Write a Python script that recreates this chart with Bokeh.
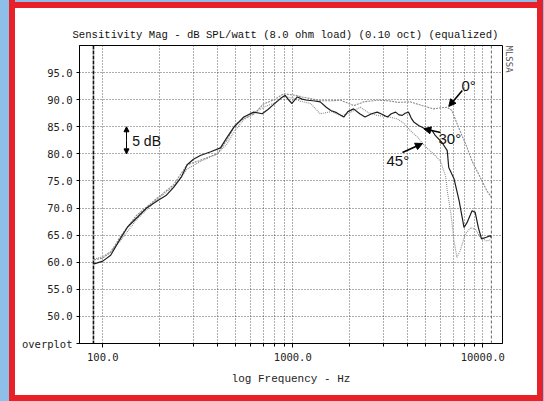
from bokeh.plotting import figure
from bokeh.models import (FixedTicker, PrintfTickFormatter, Label, Arrow, NormalHead,
                          Span, Title)
from bokeh.embed import file_html
from bokeh.resources import INLINE

# ---------------- data ----------------
x_major = [100, 1000, 10000]
x_minor = [200, 300, 400, 500, 600, 700, 800, 900,
           2000, 3000, 4000, 5000, 6000, 7000, 8000, 9000]
y_ticks = [45, 50, 55, 60, 65, 70, 75, 80, 85, 90, 95]
marker_freqs = [89.3, 11100]

# 30 deg (solid)
f_30 = [90, 100, 110, 124, 135, 152, 170, 193, 215, 236, 260, 278, 300, 326, 370, 416,
        450, 489, 552, 623, 690, 740, 780, 861, 912, 960, 990, 1056, 1120, 1190, 1280,
        1395, 1500, 1585, 1700, 1855, 1950, 2090, 2250, 2400, 2600, 2780, 2950, 3150,
        3300, 3480, 3620, 3770, 3900, 4070, 4200, 4330, 4620, 5000, 5420, 5620, 6100,
        6500, 6620, 7060, 7500, 7970, 8260, 8780, 9120, 9480, 9850, 10450, 10960, 11100]
db_30 = [59.7, 60.2, 61.3, 64.4, 66.5, 68.3, 70.0, 71.3, 72.3, 73.8, 75.8, 78.0, 79.0, 79.7,
         80.4, 81.1, 83.0, 84.9, 86.8, 87.7, 87.4, 88.2, 88.9, 90.2, 90.8, 89.8, 89.3, 90.5,
         90.1, 89.9, 89.8, 89.6, 88.6, 88.0, 87.6, 86.8, 87.8, 88.3, 87.4, 86.8, 87.4, 87.7,
         87.3, 86.8, 87.4, 87.7, 87.2, 87.1, 87.5, 87.7, 86.6, 85.9, 85.2, 84.6, 84.3, 83.4,
         82.1, 80.6, 77.5, 75.4, 71.4, 66.4, 67.3, 69.5, 69.2, 66.4, 64.3, 64.6, 64.9, 64.5]

# 0 deg (light dotted)
f_0 = [90, 100, 110, 124, 150, 193, 236, 278, 326, 400, 450, 500, 552, 623, 700, 800, 894,
       1034, 1120, 1240, 1400, 1600, 1785, 2000, 2100, 2360, 2780, 3200, 3600, 4150, 4700,
       5500, 6000, 6500, 6880, 7450, 8260, 8800, 9690, 10500, 11100]
db_0 = [60.4, 60.8, 61.8, 64.8, 68.6, 71.8, 74.3, 78.0, 78.8, 80.0, 82.5, 85.5, 86.5, 87.3,
        89.2, 90.0, 91.1, 90.8, 90.5, 90.2, 89.8, 89.8, 89.9, 89.2, 88.9, 89.6, 89.9, 89.8,
        89.5, 89.6, 89.0, 88.3, 88.5, 88.6, 88.0, 84.9, 81.2, 78.6, 75.7, 73.2, 72.0]

# 45 deg (dotted)
f_45 = [90, 100, 110, 124, 150, 193, 236, 278, 326, 400, 450, 500, 552, 623, 700, 800, 894,
        1000, 1100, 1240, 1395, 1600, 1800, 2000, 2270, 2500, 2780, 3100, 3530, 3850, 4150,
        4530, 5000, 5500, 6000, 6390, 6500, 6800, 7060, 7310, 7600, 8100, 8650, 9200, 9700,
        10500, 11100]
db_45 = [60.6, 61.0, 62.0, 64.0, 67.8, 71.6, 74.0, 77.2, 78.6, 80.0, 81.8, 84.5, 86.3, 87.5,
         88.6, 89.4, 90.6, 90.3, 89.7, 89.3, 87.4, 87.8, 87.0, 87.6, 88.6, 87.6, 87.1, 86.9,
         86.5, 85.6, 84.3, 83.1, 81.3, 80.0, 78.6, 75.7, 73.2, 68.9, 63.9, 60.9, 62.1, 65.2,
         66.4, 66.0, 64.6, 63.9, 64.2]

MONO = "DejaVu Sans Mono"
TMONO = "Liberation Mono"
SANS = "Liberation Sans"
RED = "#e82128"
BLUE = "#8dbfe8"

# ---------------- figure ----------------
p = figure(width=544, height=401, x_axis_type="log", x_range=(75.4, 12700), y_range=(45, 100),
           output_backend="svg", toolbar_location=None,
           min_border_left=79, min_border_right=42, min_border_top=45, min_border_bottom=58)
p.background_fill_color = "white"
p.border_fill_color = None
p.outline_line_color = "black"
p.outline_line_width = 1
p.styles = {
    "background-color": "white",
    "background-image": (
        f"linear-gradient(to right, {BLUE} 0px, {BLUE} 9px, {RED} 9px, {RED} 15px, "
        f"transparent 15px, transparent 537px, {RED} 537px, {RED} 543px, {BLUE} 543px), "
        f"linear-gradient(to bottom, {BLUE} 0px, {BLUE} 2px, {RED} 2px, {RED} 8px, "
        f"transparent 8px, transparent 395px, {RED} 395px)"
    ),
}

# title
p.title.text = "Sensitivity Mag - dB SPL/watt (8.0 ohm load) (0.10 oct) (equalized)"
p.title.text_font = TMONO
p.title.text_font_size = "10.6px"
p.title.text_font_style = "normal"
p.title.text_color = "#111111"
p.title.align = "left"
p.title.offset = -7
p.title.standoff = 9

p.add_layout(Title(text="MLSSA", align="left", text_font=MONO, text_font_size="9px",
                   text_font_style="normal", text_color="#555555", standoff=3), "right")

# x axis
p.xaxis.ticker = FixedTicker(ticks=x_major, minor_ticks=x_minor)
p.xaxis.formatter = PrintfTickFormatter(format="%.1f")
p.xaxis.major_tick_out = 4
p.xaxis.major_tick_in = 0
p.xaxis.minor_tick_out = 3
p.xaxis.minor_tick_in = 0
p.xaxis.major_label_text_font = MONO
p.xaxis.major_label_text_font_size = "10.5px"
p.xaxis.major_label_text_color = "#222222"
p.xaxis.major_label_standoff = 5
p.xaxis.axis_label = "log Frequency - Hz"
p.xaxis.axis_label_text_font = TMONO
p.xaxis.axis_label_text_font_style = "normal"
p.xaxis.axis_label_text_font_size = "11px"
p.xaxis.axis_label_text_color = "#222222"
p.xaxis.axis_label_standoff = 9

# y axis
p.yaxis.ticker = FixedTicker(ticks=y_ticks)
p.yaxis.formatter = PrintfTickFormatter(format="%.1f")
p.yaxis.major_label_overrides = {45: "overplot"}
p.yaxis.major_tick_out = 3
p.yaxis.major_tick_in = 0
p.yaxis.minor_tick_line_color = None
p.yaxis.major_label_text_font = MONO
p.yaxis.major_label_text_font_size = "10.5px"
p.yaxis.major_label_text_color = "#222222"
p.yaxis.major_label_standoff = 4

# grids
for g in (p.xgrid, p.ygrid):
    g.grid_line_color = "#333333"
    g.grid_line_dash = "1 2"
    g.grid_line_alpha = 0.8
p.xgrid.minor_grid_line_color = "#333333"
p.xgrid.minor_grid_line_dash = "1 2"
p.xgrid.minor_grid_line_alpha = 0.8

# data span markers
p.add_layout(Span(location=marker_freqs[0], dimension="height", line_color="#111111",
                  line_width=1.6, line_dash="4 1"))
p.add_layout(Span(location=marker_freqs[1], dimension="height", line_color="#666666",
                  line_width=1, line_dash="3 2"))

# curves
p.line(f_0, db_0, line_color="#8a8a8a", line_width=1.1, line_dash="2 1")
p.line(f_45, db_45, line_color="#8f8f8f", line_width=1.1, line_dash="1 1")
p.line(f_30, db_30, line_color="#1e1e1e", line_width=1.2)

# annotations
ann = dict(text_font=SANS, text_font_size="15px", text_align="left",
           text_baseline="middle", text_color="#111111")
p.add_layout(Label(x=7726, y=92.65, text="0°", **ann))
p.add_layout(Label(x=5847, y=82.83, text="30°", **ann))
p.add_layout(Label(x=3113, y=78.76, text="45°", **ann))
p.add_layout(Label(x=142.8, y=82.46, text="5 dB", text_font=SANS, text_font_size="14px",
                   text_align="left", text_baseline="middle", text_color="#111111"))

def head(s=7):
    return NormalHead(size=s, fill_color="black", line_color="black")

p.add_layout(Arrow(x_start=7800, y_start=91.7, x_end=6623, y_end=88.76, end=head(),
                   line_color="black", line_width=1.6))
p.add_layout(Arrow(x_start=5990, y_start=83.94, x_end=4893, y_end=84.63, end=head(),
                   line_color="black", line_width=1.6))
p.add_layout(Arrow(x_start=3779, y_start=80.24, x_end=4815, y_end=81.91, end=head(),
                   line_color="black", line_width=1.6))
p.add_layout(Arrow(x_start=133.3, y_start=82.5, x_end=133.3, y_end=85, end=head(5),
                   line_color="black", line_width=1))
p.add_layout(Arrow(x_start=133.3, y_start=82.5, x_end=133.3, y_end=80, end=head(5),
                   line_color="black", line_width=1))

open("out.html", "w").write(file_html(p, INLINE))
